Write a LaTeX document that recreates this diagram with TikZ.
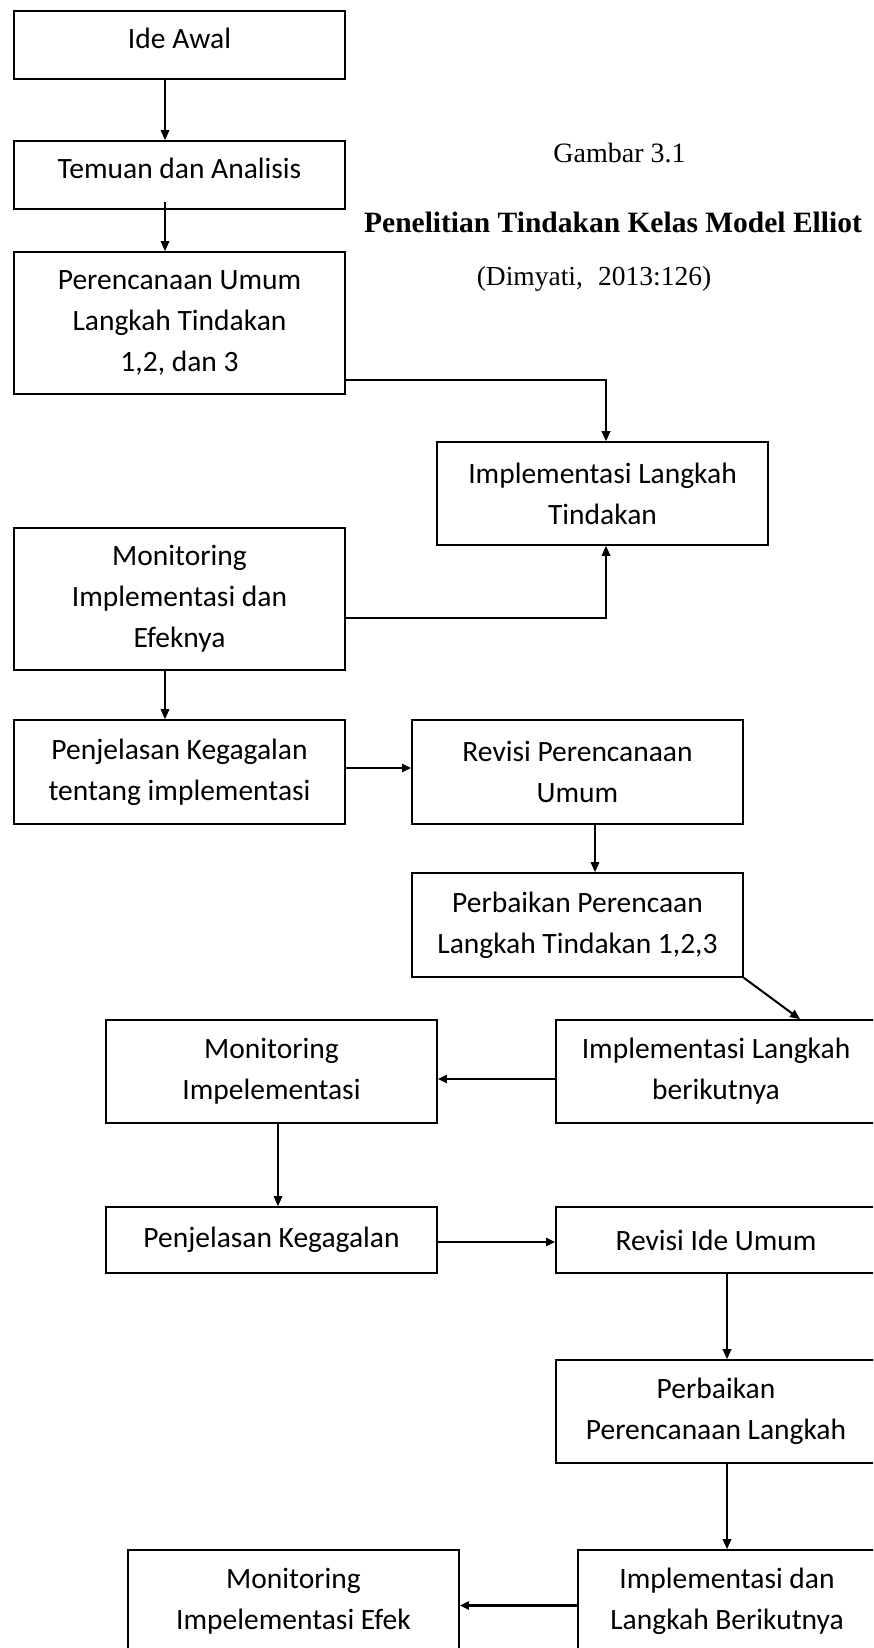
\documentclass[tikz,border=0pt]{standalone}
\usepackage{fontspec}
\setmainfont{Carlito}
\newfontfamily\tnr{Liberation Serif}
\usetikzlibrary{arrows.meta}
\newcommand{\liftup}[1]{\raisebox{7pt}[\height][\depth]{#1}}
\tikzset{
  box/.style={draw, line width=1.6pt, inner sep=0pt, align=center,
    font=\fontsize{29.5}{41}\selectfont},
  wbox/.style={box, minimum width=331pt},
  rbox/.style={box, minimum width=320pt},
  arr/.style={line width=1.5pt, -{Triangle[length=10pt,width=8.5pt]}},
  tarr/.style={line width=2.6pt, -{Triangle[length=9pt,width=8pt]}},
  ttl/.style={inner sep=0pt, anchor=base}
}
\begin{document}
\begin{tikzpicture}[x=1pt, y=-1pt]
\useasboundingbox (0,0) rectangle (873,1648);
\clip (0,0) rectangle (873,1648);
\fill[white] (0,0) rectangle (873,1648);

% boxes
\node[wbox, minimum height=68pt]  (ide)    at (179.5,45)  {\liftup{Ide Awal}};
\node[wbox, minimum height=68pt]  (temuan) at (179.5,175) {\liftup{Temuan dan Analisis}};
\node[wbox, minimum height=142pt] (renc)   at (179.5,323) {Perencanaan Umum\\Langkah Tindakan\\1,2, dan 3};
\node[wbox, minimum height=103pt] (impla)  at (602.5,493.5) {Implementasi Langkah\\Tindakan};
\node[wbox, minimum height=142pt] (mona)   at (179.5,599) {Monitoring\\Implementasi dan\\Efeknya};
\node[wbox, minimum height=104pt] (penja)  at (179.5,772) {Penjelasan Kegagalan\\tentang implementasi};
\node[wbox, minimum height=104pt] (reva)   at (577.5,772) {Revisi Perencanaan\\Umum};
\node[wbox, minimum height=104pt] (perba)  at (577.5,925) {Perbaikan Perencaan\\Langkah Tindakan 1,2,3};
\node[rbox, minimum height=103pt] (implb)  at (716,1071.5) {Implementasi Langkah\\berikutnya};
\node[wbox, minimum height=103pt] (monb)   at (271.5,1071.5) {Monitoring\\Impelementasi};
\node[wbox, minimum height=66pt]  (penjb)  at (271.5,1240) {Penjelasan Kegagalan};
\node[rbox, minimum height=66pt]  (revb)   at (716,1240) {Revisi Ide Umum};
\node[rbox, minimum height=103pt] (perbb)  at (716,1411.5) {Perbaikan\\Perencanaan Langkah};
\node[box, minimum width=298pt, minimum height=103pt] (implc) at (727,1601.5) {Implementasi dan\\Langkah Berikutnya};
\node[wbox, minimum height=103pt] (monc)   at (293.5,1601.5) {Monitoring\\Impelementasi Efek};

% title
\node[ttl, font=\tnr\fontsize{28}{30}\selectfont] (gambar) at (619.5,163) {Gambar 3.1};
\node[ttl, font=\tnr\bfseries\fontsize{29.5}{32}\selectfont] (judul) at (613,232) {Penelitian Tindakan Kelas Model Elliot};
\node[ttl, font=\tnr\fontsize{27.5}{30}\selectfont] (sumber) at (594,285) {(Dimyati,\hspace{0.3em} 2013:126)};

% connectors
\draw[arr] ([xshift=-14.5pt]ide.south) -- ([xshift=-14.5pt]temuan.north);
\draw[arr] ([xshift=-14.5pt,yshift=8pt]temuan.south) -- ([xshift=-14.5pt]renc.north);
\draw[arr, line width=1.8pt] ([yshift=-57pt]renc.east) -| ([xshift=3.5pt]impla.north);
\draw[arr, line width=1.8pt] ([yshift=-19pt]mona.east) -| ([xshift=3.5pt]impla.south);
\draw[arr] ([xshift=-14.5pt]mona.south) -- ([xshift=-14.5pt]penja.north);
\draw[tarr] ([yshift=4pt]penja.east) -- ([yshift=4pt]reva.west);
\draw[arr] ([xshift=17.5pt]reva.south) -- ([xshift=17.5pt]perba.north);
\draw[arr, line width=2pt] (perba.south east) -- ([xshift=84pt]implb.north);
\draw[tarr] ([yshift=-7.5pt]implb.west) -- ([yshift=-7.5pt]monb.east);
\draw[arr] ([xshift=6.5pt]monb.south) -- ([xshift=6.5pt]penjb.north);
\draw[tarr] ([yshift=-2pt]penjb.east) -- ([yshift=-2pt]revb.west);
\draw[arr, line width=1.8pt] ([xshift=11pt]revb.south) -- ([xshift=11pt]perbb.north);
\draw[arr, line width=1.8pt] ([xshift=11pt]perbb.south) -- (implc.north);
\draw[tarr, line width=2.2pt] ([yshift=-4pt]implc.west) -- ([yshift=-4pt]monc.east);
\end{tikzpicture}
\end{document}
